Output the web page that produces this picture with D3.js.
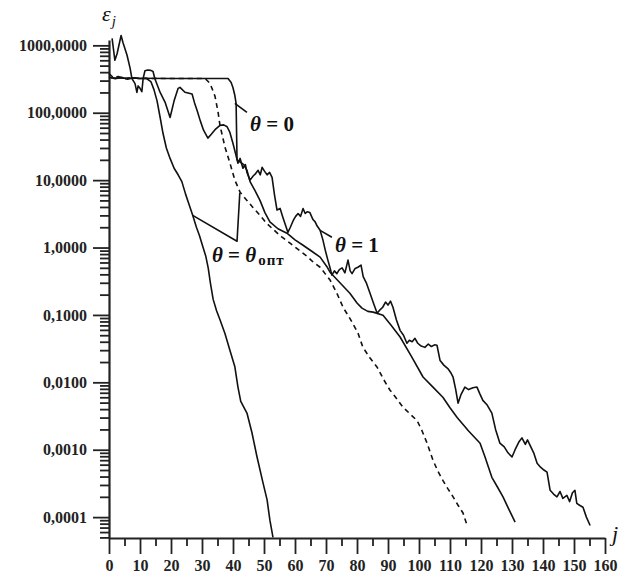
<!DOCTYPE html>
<html>
<head>
<meta charset="utf-8">
<script src="https://cdn.jsdelivr.net/npm/d3@7"></script>
<style>
  body { margin: 0; background: #fff; }
  svg { display: block; font-family: 'Liberation Serif', serif; }
</style>
</head>
<body>
<script>
// axis ticks
const xMajorTicks = [0, 10, 20, 30, 40, 50, 60, 70, 80, 90, 100, 110, 120, 130, 140, 150, 160];
const xMinorTicks = [5, 15, 25, 35, 45, 55, 65, 75, 85, 95, 105, 115, 125, 135, 145, 155];
const yTickValues = [1000, 100, 10, 1, 0.1, 0.01, 0.001, 0.0001];
const yTickLabels = ['1000,0000', '100,0000', '10,0000', '1,0000', '0,1000', '0,0100', '0,0010', '0,0001'];

// theta = theta_opt (steepest curve)
const curveOpt = [
  [0, 340], [2, 320], [4, 335], [6, 315], [8, 330], [10, 320], [12, 325], [13.5, 290], [14.5, 220],
  [15.5, 150], [16.5, 85], [17.4, 50], [18.5, 30], [19.7, 21], [21, 15], [22.3, 12], [23.5, 9.5],
  [24.7, 6.2], [25.8, 4.4], [27, 3.0], [28.2, 2.0], [29.2, 1.5], [30.2, 1.05], [31.2, 0.75], [32, 0.5],
  [32.7, 0.3], [33.6, 0.17], [34.7, 0.115], [35.8, 0.085], [37.4, 0.053], [39, 0.03], [40.6, 0.017],
  [41.6, 0.0085], [42.5, 0.0052], [44.5, 0.0035], [46.1, 0.0018], [47.7, 0.0008], [49.7, 0.00032],
  [51, 0.00018], [51.9, 0.00009], [52.9, 0.00005]
];

// theta = 0
const curveZero = [
  [0, 330], [5, 325], [10, 324], [20, 322], [30, 322], [38.4, 322], [39.4, 280], [40, 235], [40.6, 180],
  [41.0, 138], [41.3, 20], [43.5, 17], [44.5, 14], [45.5, 9.5], [47.1, 7], [48.7, 5.0], [50.3, 3.3],
  [51.9, 2.4], [54.5, 1.9], [57.4, 1.63], [60, 1.3], [62.6, 1.08], [65.4, 0.88], [68.1, 0.72],
  [70.3, 0.52], [71.3, 0.43], [74.5, 0.3], [77.7, 0.21], [80, 0.15], [81.6, 0.126], [83.5, 0.113],
  [85.2, 0.11], [88.4, 0.099], [91, 0.07], [93.9, 0.047], [97.6, 0.024], [101.3, 0.012], [104.5, 0.0085],
  [107.7, 0.006], [110, 0.0042], [112.3, 0.003], [116, 0.0019], [119.7, 0.00125], [121.3, 0.00078],
  [123.5, 0.00039], [125.3, 0.00028], [127.1, 0.0002], [129, 0.00013], [131, 0.000084]
];

// theta = 1 (noisy)
const curveOne = [
  [1, 1270], [1.9, 600], [2.6, 750], [3.9, 1400], [4.5, 1100], [5.8, 720], [6.8, 460], [7.4, 320],
  [8.4, 270], [9.0, 200], [9.4, 250], [10, 230], [10.6, 205], [11.0, 320], [11.6, 420], [12.5, 430],
  [13.5, 425], [14.2, 410], [14.8, 320], [16.5, 200], [18.1, 143], [19.7, 85], [21, 150], [22.3, 230],
  [22.9, 238], [24.5, 201], [25.5, 196], [26.8, 190], [27.6, 140], [28.4, 109], [29.4, 77], [30.5, 55],
  [31.9, 42], [33, 48], [34.2, 56], [35.8, 65], [37, 66], [38.1, 62], [39, 51], [40, 35], [40.8, 25],
  [41.6, 17.8], [42.3, 21], [43.2, 15], [44, 17], [44.5, 13], [45.5, 10], [46.5, 11.5], [47.3, 12.5],
  [48.1, 14], [48.8, 12], [49.4, 15.5], [50.2, 13.5], [51, 12], [51.8, 13], [52.6, 11], [53.4, 6],
  [54.2, 3.6], [55.2, 3.8], [56.1, 2.8], [57, 2.1], [57.7, 1.68], [58.5, 2.0], [59.4, 2.5], [60.2, 2.9],
  [61, 3.2], [61.8, 2.9], [62.6, 3.8], [63.3, 3.2], [63.9, 3.4], [64.8, 3.3], [65.8, 2.6], [66.5, 2.4],
  [67.1, 2.1], [68.1, 1.8], [69, 1.3], [69.8, 0.9], [70.6, 0.65], [71.3, 0.5], [71.9, 0.39], [72.7, 0.45],
  [73.5, 0.41], [74.3, 0.47], [75.2, 0.5], [76.1, 0.42], [77.1, 0.65], [77.8, 0.45], [78.4, 0.41],
  [79.4, 0.49], [80.3, 0.51], [81.3, 0.55], [82, 0.37], [83, 0.3], [84.2, 0.21], [85.3, 0.15],
  [86.5, 0.106], [87.5, 0.12], [88.3, 0.13], [89.2, 0.155], [90, 0.14], [90.8, 0.16], [91.6, 0.13],
  [92.7, 0.085], [93.9, 0.059], [95, 0.05], [96.1, 0.038], [96.9, 0.042], [97.8, 0.04], [98.7, 0.045],
  [99.6, 0.038], [100.5, 0.035], [101.9, 0.033], [103, 0.037], [104, 0.034], [105, 0.036], [105.8, 0.0355],
  [106.8, 0.021], [108, 0.018], [109.3, 0.016], [110.2, 0.014], [111, 0.0119], [111.8, 0.008],
  [112.6, 0.0049], [113.5, 0.0065], [114.8, 0.0085], [116, 0.0078], [117.4, 0.0083], [118.7, 0.0085],
  [119.6, 0.0068], [120.6, 0.0054], [122, 0.0046], [123.5, 0.0035], [124.7, 0.002], [126.1, 0.00125],
  [127.5, 0.0011], [128.7, 0.0009], [130, 0.00078], [131, 0.001], [132.2, 0.0013], [133.2, 0.0015],
  [134.3, 0.0012], [135, 0.0014], [135.8, 0.00117], [137, 0.0009], [138.1, 0.00063], [139.2, 0.00055],
  [140.3, 0.0005], [141.3, 0.000465], [142.3, 0.00025], [143.4, 0.00022], [144.5, 0.0002], [145.5, 0.00024],
  [146.4, 0.00019], [147.7, 0.00021], [148.6, 0.00017], [149.5, 0.00023], [150.3, 0.00025], [150.9, 0.00016],
  [151.8, 0.00015], [152.9, 0.00014], [154, 0.0001], [155.2, 0.000075]
];

// dashed curve
const curveDashed = [
  [0, 380], [1.5, 330], [3, 345], [5, 320], [7, 330], [10, 322], [15, 322], [20, 322], [25, 322], [31, 322],
  [32.6, 273], [34.2, 175], [35.2, 101], [35.8, 65], [37.4, 31], [39, 18], [40.6, 10], [42.3, 6.6],
  [44.5, 5.0], [46.5, 3.9], [48.7, 3.0], [50.8, 2.3], [52.9, 1.87], [55.6, 1.45], [58.4, 1.16],
  [61.2, 0.92], [63.9, 0.74], [66, 0.6], [68.1, 0.51], [69.7, 0.41], [71.3, 0.33], [73.5, 0.21],
  [75.5, 0.13], [77.7, 0.089], [80.3, 0.054], [81.9, 0.033], [84.2, 0.023], [86.5, 0.0168], [88.6, 0.011],
  [90.6, 0.0077], [92.7, 0.0058], [94.8, 0.0043], [97.1, 0.0034], [99.4, 0.0027], [101, 0.0019],
  [102.6, 0.00125], [104.5, 0.0007], [106.1, 0.00048], [107.7, 0.00035], [109.4, 0.00026], [111, 0.0002],
  [112.6, 0.00015], [114.2, 0.000115], [115.5, 0.000076]
];

// leader lines for the labels
const leaderOpt = [[27, 3.0], [41.3, 1.24], [42.2, 6.5]];
const leaderZero = [[40.6, 138], [44.5, 101]];
const leaderOne = [[68.1, 1.8], [71.9, 1.42]];

// set the dimensions of the graph
const width = 633;
const height = 581;
const x0 = 109, x1 = 605;
const yBottom = 538, yTop = 40;

const svg = d3.select('body').append('svg')
  .attr('width', width)
  .attr('height', height);

// set the ranges
const x = d3.scaleLinear().domain([0, 160]).range([x0, x1]);
const y = d3.scaleLog().domain([4.9e-5, 1200]).range([yBottom, yTop]);

// minor log ticks, 2..9 in every decade
const yMinorTicks = [];
for (let e = -5; e <= 2; e++) {
  for (let m = 2; m <= 9; m++) {
    const v = m * Math.pow(10, e);
    if (v >= 4.9e-5 && v <= 1200) yMinorTicks.push(v);
  }
}

const serif = 'Liberation Serif';

// Y axis
const yAxisMinor = svg.append('g')
  .attr('transform', 'translate(' + x0 + ',0)')
  .call(d3.axisLeft(y).tickValues(yMinorTicks).tickSize(9).tickSizeOuter(0).tickFormat(''));
yAxisMinor.select('.domain').remove();

const yAxis = svg.append('g')
  .attr('transform', 'translate(' + x0 + ',0)')
  .call(d3.axisLeft(y).tickValues(yTickValues).tickSize(16).tickSizeOuter(0).tickPadding(6)
    .tickFormat((d, i) => yTickLabels[i]));

// X axis
const xAxisMinor = svg.append('g')
  .attr('transform', 'translate(0,' + yBottom + ')')
  .call(d3.axisBottom(x).tickValues(xMinorTicks).tickSize(8).tickSizeOuter(0).tickFormat(''));
xAxisMinor.select('.domain').remove();

const xAxis = svg.append('g')
  .attr('transform', 'translate(0,' + yBottom + ')')
  .call(d3.axisBottom(x).tickValues(xMajorTicks).tickSize(16).tickSizeOuter(0).tickPadding(6));

svg.selectAll('g').attr('font-family', serif);
svg.selectAll('.domain').attr('stroke', '#222').attr('stroke-width', 2.2);
svg.selectAll('.tick line').attr('stroke', '#222').attr('stroke-width', 1.8);
svg.selectAll('.tick text')
  .attr('font-family', serif)
  .attr('font-size', 16)
  .attr('font-weight', 'bold')
  .attr('fill', '#222');

// the curves
const line = d3.line()
  .x(d => x(d[0]))
  .y(d => y(d[1]));

const plot = svg.append('g')
  .attr('fill', 'none')
  .attr('stroke', '#111')
  .attr('stroke-width', 1.6)
  .attr('stroke-linejoin', 'round');

plot.append('path').datum(curveOpt).attr('d', line);
plot.append('path').datum(curveZero).attr('d', line);
plot.append('path').datum(curveOne).attr('d', line);
plot.append('path').datum(curveDashed).attr('d', line).attr('stroke-dasharray', '5,4');
plot.append('path').datum(leaderOpt).attr('d', line);
plot.append('path').datum(leaderZero).attr('d', line);
plot.append('path').datum(leaderOne).attr('d', line);

// labels
const labels = svg.append('g')
  .attr('font-family', serif)
  .attr('font-weight', 'bold')
  .attr('fill', '#111');

const t0 = labels.append('text').attr('x', x(45.5)).attr('y', y(53)).attr('font-size', 21);
t0.append('tspan').attr('font-style', 'italic').text('θ');
t0.append('tspan').text(' = 0');

const t1 = labels.append('text').attr('x', x(72.9)).attr('y', y(0.85)).attr('font-size', 21);
t1.append('tspan').attr('font-style', 'italic').text('θ');
t1.append('tspan').text(' = 1');

const tOpt = labels.append('text').attr('x', x(33.2)).attr('y', y(0.6)).attr('font-size', 21);
tOpt.append('tspan').attr('font-style', 'italic').text('θ');
tOpt.append('tspan').text(' = ');
tOpt.append('tspan').attr('font-style', 'italic').text('θ');
tOpt.append('tspan').attr('font-size', 15).attr('dy', 3).attr('dx', 2).attr('letter-spacing', 1).text('опт');

// axis titles
const yTitle = svg.append('text')
  .attr('x', x0 - 7)
  .attr('y', 21)
  .attr('font-family', serif)
  .attr('font-style', 'italic')
  .attr('font-size', 22)
  .attr('fill', '#111');
yTitle.append('tspan').text('ε');
yTitle.append('tspan').attr('font-size', 15).attr('dy', 5).attr('dx', 1).text('j');

svg.append('text')
  .attr('x', x1 + 7)
  .attr('y', yBottom + 3)
  .attr('font-family', serif)
  .attr('font-style', 'italic')
  .attr('font-size', 22)
  .attr('fill', '#111')
  .text('j');
</script>
</body>
</html>
